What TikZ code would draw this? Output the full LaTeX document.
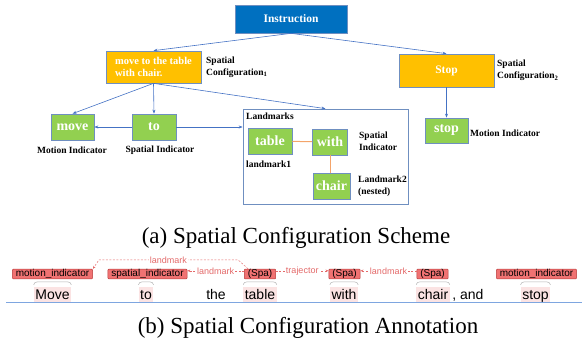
\documentclass[tikz,border=0pt]{standalone}
\usepackage{fontspec}
\setmainfont{Liberation Serif}
\newfontfamily\annfont{Liberation Sans}
\usetikzlibrary{arrows.meta}

\definecolor{instrblue}{HTML}{0070C0}
\definecolor{confyellow}{HTML}{FFC000}
\definecolor{indgreen}{HTML}{92D050}
\definecolor{edgeblue}{HTML}{4472C4}
\definecolor{boxline}{HTML}{6F8FC0}
\definecolor{linkorange}{HTML}{F4A46A}
\definecolor{tagfill}{HTML}{F07272}
\definecolor{tagline}{HTML}{B83A3A}
\definecolor{relred}{HTML}{E46A6A}
\definecolor{wordpink}{HTML}{FBE3E3}
\definecolor{ruleblue}{HTML}{7EA6E0}

\tikzset{
  scheme/.style={draw=boxline, line width=0.7pt, inner sep=0pt, text=white},
  greenbox/.style={scheme, fill=indgreen, minimum height=26pt, font=\bfseries\fontsize{14}{16}\selectfont},
  note/.style={font=\bfseries\fontsize{9.5}{12}\selectfont, align=left, inner sep=0pt},
  arr/.style={draw=edgeblue, line width=0.6pt, -{Stealth[length=4pt,width=3pt]}},
  link/.style={draw=linkorange, line width=1pt},
  word/.style={font=\annfont\fontsize{14}{16}\selectfont, anchor=base, inner xsep=1.5pt, inner ysep=1pt, text height=11pt, text depth=2pt},
  hiword/.style={word, fill=wordpink},
  tag/.style={font=\annfont\fontsize{10}{11}\selectfont, fill=tagfill, draw=tagline, line width=0.5pt, rounded corners=1pt, inner xsep=3.5pt, inner ysep=0.3pt},
  rel/.style={draw=relred, line width=0.5pt, dash pattern=on 2pt off 1.5pt, -{Stealth[length=3pt,width=2.5pt]}},
  rellabel/.style={font=\annfont\fontsize{9}{10}\selectfont, text=relred, fill=white, inner sep=1pt},
  brace/.style={draw=gray!60, line width=0.5pt},
  caption/.style={font=\fontsize{23}{26}\selectfont, anchor=base}
}

\begin{document}
\begin{tikzpicture}[x=1pt, y=-1pt]
\useasboundingbox (0,0) rectangle (584,346);

% (a) the scheme
\node[scheme, fill=instrblue, minimum width=112pt, minimum height=28pt, font=\bfseries\fontsize{11.5}{13}\selectfont] (instr) at (291,19) {Instruction};
\node[scheme, fill=confyellow, minimum width=95pt, minimum height=32pt, align=left, font=\bfseries\fontsize{10.5}{12}\selectfont] (conf1) at (153.5,67) {move to the table\\ with chair.};
\node[scheme, fill=confyellow, minimum width=95pt, minimum height=33pt, font=\bfseries\fontsize{11.5}{13}\selectfont] (conf2) at (446.5,70.5) {Stop};
\node[note, anchor=west] (conf1lab) at (206,67) {Spatial\\Configuration\textsubscript{1}};
\node[note, anchor=west] (conf2lab) at (497,70.5) {Spatial\\Configuration\textsubscript{2}};

\node[greenbox, minimum width=43pt] (nMove) at (72.5,127) {move};
\node[greenbox, minimum width=44pt] (nTo) at (154,127) {to};
\node[greenbox, minimum width=43pt, minimum height=25pt] (nStop) at (446.5,130.5) {stop};
\node[note] (moveLab) at (72,150) {Motion Indicator};
\node[note] (toLab) at (160,150) {Spatial Indicator};
\node[note, anchor=west] (stopLab) at (470,133) {Motion Indicator};

% landmarks group
\node[draw=boxline, line width=0.7pt, minimum width=165pt, minimum height=95pt, inner sep=0pt] (lmBox) at (325.5,156.5) {};
\node[note, anchor=west] (lmLab) at (246,116) {Landmarks};
\node[greenbox, minimum width=44pt] (nTable) at (270,141) {table};
\node[greenbox, minimum width=35pt] (nWith) at (330,142) {with};
\node[greenbox, minimum width=37pt] (nChair) at (331.5,186) {chair};
\node[note, anchor=west] (withLab) at (359,141) {Spatial\\Indicator};
\node[note, anchor=west] (tableLab) at (246,164) {landmark1};
\node[note, anchor=west] (chairLab) at (358,186) {Landmark2\\(nested)};

\draw[arr] (instr.south) -- (conf1.north);
\draw[arr] (instr.south) -- (conf2.north);
\draw[arr] (conf1.south) -- (nMove.north);
\draw[arr] (conf1.south) -- (nTo.north);
\draw[arr] (conf1.south) -- (lmBox.north);
\draw[arr] (nTo.west) -- (nMove.east);
\draw[arr] (nTo.east) -- (nTo.east -| lmBox.west);
\draw[arr] (conf2.south) -- (nStop.north);
\draw[link] (nTable) -- (nWith);
\draw[link] (nWith.south) -- (nWith.south |- nChair.north);

\node[caption] (capA) at (296,243) {(a) Spatial Configuration Scheme};

% (b) the annotation
\node[hiword] (wMove) at (52.5,299) {Move};
\node[hiword] (wTo) at (146,299) {to};
\node[word] (wThe) at (216,299) {the};
\node[hiword] (wTable) at (260,299) {table};
\node[hiword] (wWith) at (344,299) {with};
\node[hiword] (wChair) at (433,299) {chair};
\node[word, anchor=base west, inner xsep=0pt] (wAnd) at (wChair.base east) {\,, and};
\node[hiword] (wStop) at (535.5,299) {stop};
\draw[ruleblue, line width=0.8pt] (6,302.5) -- (582,302.5);

\foreach \w in {wMove,wTo,wTable,wWith,wChair,wStop}{
  \draw[brace] ([yshift=2pt]\w.north west) to[out=90,in=180] ([xshift=4pt,yshift=5pt]\w.north west)
    -- ([xshift=-4pt,yshift=5pt]\w.north east) to[out=0,in=90] ([yshift=2pt]\w.north east);
}

\node[tag] (miMove) at (52.5,274) {motion\_indicator};
\node[tag] (siTo) at (147.5,274) {spatial\_indicator};
\node[tag] (spaT) at (260,274) {(Spa)};
\node[tag] (spaW) at (344.5,274) {(Spa)};
\node[tag] (spaC) at (432.5,274) {(Spa)};
\node[tag] (miStop) at (536.5,274) {motion\_indicator};

\draw[rel] ([xshift=4pt]spaT.north west) -- ([xshift=-6pt,yshift=9pt]spaT.north west)
  -- node[rellabel] {landmark} ([xshift=6pt,yshift=9pt]miMove.north east) -- (miMove.north east);
\draw[rel] ([yshift=-2pt]spaT.north west) -- node[rellabel] {landmark} ([yshift=-2pt]siTo.north east);
\draw[rel] ([yshift=-2pt]spaT.north east) -- node[rellabel] {trajector} ([yshift=-2pt]spaW.north west);
\draw[rel] ([yshift=-2pt]spaC.north west) -- node[rellabel] {landmark} ([yshift=-2pt]spaW.north east);

\node[caption] (capB) at (308,333) {(b) Spatial Configuration Annotation};
\end{tikzpicture}
\end{document}
